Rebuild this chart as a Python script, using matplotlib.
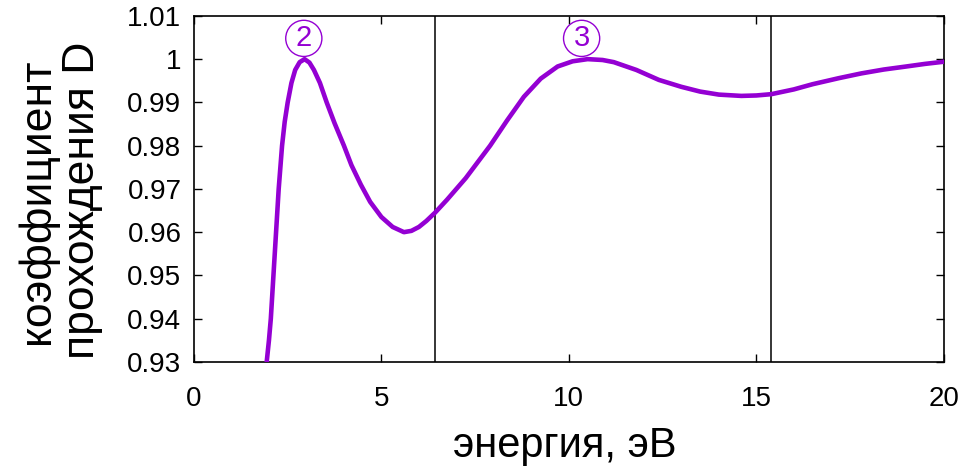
import matplotlib
matplotlib.use("Agg")
import matplotlib.pyplot as plt

# energy (eV) and transmission coefficient D
energy = [1.94, 2.0, 2.05, 2.12, 2.19, 2.26, 2.35, 2.42, 2.5, 2.6, 2.7, 2.82, 2.95, 3.08,
          3.2, 3.36, 3.54, 3.75, 4.0, 4.2, 4.45, 4.7, 5.0, 5.3, 5.6, 5.8, 6.0, 6.2, 6.43,
          6.75, 7.25, 7.9, 8.35, 8.8, 9.25, 9.7, 10.1, 10.5, 10.9, 11.2, 11.8, 12.4, 13.0,
          13.5, 14.0, 14.6, 15.0, 15.4, 16.0, 16.5, 17.2, 17.8, 18.4, 19.0, 19.5, 20.0]
coef = [0.930, 0.935, 0.940, 0.950, 0.960, 0.970, 0.980, 0.9855, 0.990, 0.9945, 0.9975,
        0.9993, 1.0000, 0.9992, 0.9975, 0.9945, 0.990, 0.9852, 0.980, 0.9755, 0.971,
        0.967, 0.9635, 0.9612, 0.9600, 0.9603, 0.9612, 0.9626, 0.9645, 0.9675, 0.9725,
        0.980, 0.9858, 0.9913, 0.9955, 0.9983, 0.9995, 1.0000, 0.9998, 0.9993, 0.9975,
        0.9952, 0.9936, 0.9925, 0.9918, 0.9915, 0.9916, 0.9919, 0.9930, 0.9942, 0.9956,
        0.9967, 0.9976, 0.9983, 0.9989, 0.9994]

vlines = [6.43, 15.4]
peak_labels = ["2", "3"]
peak_x = [2.93, 10.34]
peak_y = [1.0048, 1.0048]

x_ticks = [0, 5, 10, 15, 20]
y_ticks = [0.93, 0.94, 0.95, 0.96, 0.97, 0.98, 0.99, 1.0, 1.01]
y_ticklabels = ["0.93", "0.94", "0.95", "0.96", "0.97", "0.98", "0.99", "1", "1.01"]

plt.rcParams["font.family"] = ["Liberation Sans", "DejaVu Sans"]

purple = "#9400D3"

fig = plt.figure(figsize=(9.65, 4.67), dpi=100)
ax = fig.add_axes([0.201, 0.225, 0.777, 0.741])

ax.plot(energy, coef, color=purple, lw=3.3, solid_capstyle="round",
        solid_joinstyle="round", zorder=3)
for xv in vlines:
    ax.axvline(xv, color="black", lw=1.1, zorder=2)

for lab, px, py in zip(peak_labels, peak_x, peak_y):
    ax.text(px, py, lab, color=purple, fontsize=21, ha="center", va="center", zorder=4,
            bbox=dict(boxstyle="circle,pad=0.14", fc="white", ec=purple, lw=1.0))

ax.set_xlim(0, 20)
ax.set_ylim(0.93, 1.01)
ax.set_xticks(x_ticks)
ax.set_yticks(y_ticks)
ax.set_yticklabels(y_ticklabels)
ax.tick_params(direction="in", length=6, width=1.0, top=True, right=True, labelsize=20)
ax.tick_params(axis="y", pad=9)
ax.tick_params(axis="x", pad=17)
for side in ax.spines.values():
    side.set_linewidth(1.2)

fig.text(0.585, 0.022, "энергия, эВ", fontsize=30, ha="center", va="baseline")
fig.text(0.062, 0.57, "коэффициент\nпрохождения D", rotation=90, fontsize=32,
         ha="center", va="center", linespacing=1.15)

fig.savefig("out.png", dpi=100)
